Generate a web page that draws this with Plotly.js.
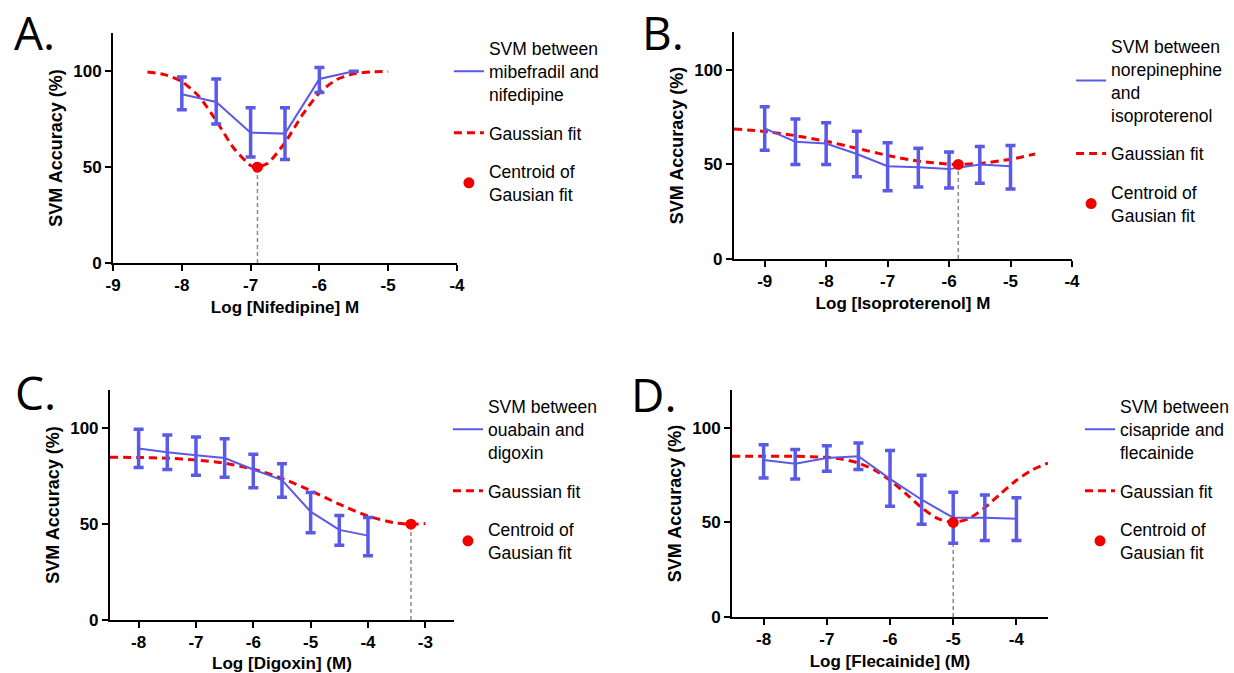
<!DOCTYPE html>
<html>
<head>
<meta charset="utf-8">
<script src="https://cdn.plot.ly/plotly-3.0.1.min.js"></script>
<style>html,body{margin:0;padding:0;background:#fff;}#chart{width:1234px;height:673px;}</style>
</head>
<body>
<div id="chart"></div>
<script>
// ---------- Panel A: Nifedipine ----------
const aX = [-8, -7.5, -7, -6.5, -6, -5.5];
const aY = [88, 84, 68, 67.5, 96, 100];
const aErrPlus = [9, 12, 13, 13.5, 6, 0];
const aErrMinus = [8, 11.5, 12.7, 13.5, 7, 0];
const aFitX = [-8.5, -8.25, -8, -7.75, -7.5, -7.25, -7, -6.9, -6.75, -6.5, -6.25, -6, -5.75, -5.5, -5.25, -5];
const aFitY = [99.6, 98.3, 94.7, 86.9, 74.3, 60.1, 50.9, 50, 52.0, 62.8, 77.1, 88.8, 95.7, 98.7, 99.7, 99.9];
const aCentroidX = [-6.9];
const aCentroidY = [50];
const aTicks = [-9, -8, -7, -6, -5, -4];
const aName = 'SVM between<br>mibefradil and<br>nifedipine';

// ---------- Panel B: Isoproterenol ----------
const bX = [-9, -8.5, -8, -7.5, -7, -6.5, -6, -5.5, -5];
const bY = [69, 62, 61, 55.5, 49, 48.5, 47.5, 50, 49];
const bErrPlus = [11.5, 12, 11, 12, 12.5, 10, 9, 9.5, 11];
const bErrMinus = [11.5, 12, 11, 12, 13, 10.5, 10, 10, 12];
const bFitX = [-9.5, -9, -8.5, -8, -7.5, -7, -6.5, -6, -5.85, -5.5, -5, -4.6];
const bFitY = [68.7, 67.4, 65.2, 62.2, 58.5, 54.7, 51.7, 50.1, 50, 50.5, 52.7, 55.5];
const bCentroidX = [-5.85];
const bCentroidY = [50];
const bTicks = [-9, -8, -7, -6, -5, -4];
const bName = 'SVM between<br>norepinephine<br>and<br>isoproterenol';

// ---------- Panel C: Digoxin ----------
const cX = [-8, -7.5, -7, -6.5, -6, -5.5, -5, -4.5, -4];
const cY = [89.5, 87.5, 86, 84.5, 78.5, 73, 56.5, 47, 44];
const cErrPlus = [10, 9, 9.5, 10, 8, 8.5, 10, 7.5, 9.5];
const cErrMinus = [10, 9, 10.5, 10, 9.5, 9, 11, 8, 10.5];
const cFitX = [-8.5, -8, -7.5, -7, -6.5, -6, -5.5, -5, -4.5, -4, -3.5, -3.25, -3];
const cFitY = [84.9, 84.8, 84.4, 83.5, 81.8, 78.7, 73.9, 67.5, 60.4, 54.2, 50.5, 50, 50.3];
const cCentroidX = [-3.25];
const cCentroidY = [50];
const cTicks = [-8, -7, -6, -5, -4, -3];
const cName = 'SVM between<br>ouabain and<br>digoxin';

// ---------- Panel D: Flecainide ----------
const dX = [-8, -7.5, -7, -6.5, -6, -5.5, -5, -4.5, -4];
const dY = [83, 81, 84, 85, 73, 62, 52.5, 52.5, 52];
const dErrPlus = [8, 7.5, 6.5, 7, 15, 13, 13.5, 12, 11];
const dErrMinus = [9.5, 8, 7, 7, 14.5, 13, 13.5, 12, 11.5];
const dFitX = [-8.5, -8, -7.5, -7, -6.75, -6.5, -6.25, -6, -5.75, -5.5, -5.25, -5, -4.75, -4.5, -4.25, -4, -3.75, -3.5];
const dFitY = [85, 85, 85, 84.4, 83.4, 81.4, 77.8, 72.3, 65.2, 57.8, 52.1, 50, 52.1, 57.8, 65.2, 72.3, 77.8, 81.4];
const dCentroidX = [-5];
const dCentroidY = [50];
const dTicks = [-8, -7, -6, -5, -4];
const dName = 'SVM between<br>cisapride and<br>flecainide';

const yTicks = [0, 50, 100];
const yLabel = 'SVM Accuracy (%)';
const xLabels = ['Log [Nifedipine] M', 'Log [Isoproterenol] M', 'Log [Digoxin] (M)', 'Log [Flecainide] (M)'];
const panelLabels = ['A.', 'B.', 'C.', 'D.'];
const fitName = 'Gaussian fit';
const centroidName = 'Centroid of<br>Gausian fit';

const BLUE = '#5A5AE6';
const RED = '#F20000';
const ARIAL = '"Liberation Sans", Arial, sans-serif';

const panels = [
  {x: aX, y: aY, ep: aErrPlus, em: aErrMinus, fx: aFitX, fy: aFitY, cx: aCentroidX, cy: aCentroidY, name: aName},
  {x: bX, y: bY, ep: bErrPlus, em: bErrMinus, fx: bFitX, fy: bFitY, cx: bCentroidX, cy: bCentroidY, name: bName},
  {x: cX, y: cY, ep: cErrPlus, em: cErrMinus, fx: cFitX, fy: cFitY, cx: cCentroidX, cy: cCentroidY, name: cName},
  {x: dX, y: dY, ep: dErrPlus, em: dErrMinus, fx: dFitX, fy: dFitY, cx: dCentroidX, cy: dCentroidY, name: dName}
];

const traces = [];
panels.forEach((p, i) => {
  const n = i === 0 ? '' : String(i + 1);
  const xa = 'x' + n, ya = 'y' + n;
  const lg = 'legend' + n;
  traces.push({
    x: [p.cx[0], p.cx[0]], y: [0, p.cy[0]], xaxis: xa, yaxis: ya,
    mode: 'lines', line: {color: '#8a8a8a', width: 1.5, dash: '4px,3px'},
    showlegend: false, hoverinfo: 'skip'
  });
  traces.push({
    x: p.fx, y: p.fy, xaxis: xa, yaxis: ya, name: fitName,
    mode: 'lines', line: {color: RED, width: 3, dash: '8px,5px', shape: 'spline', smoothing: 0.6},
    legend: lg, legendgroup: 'fit' + i, legendrank: 2
  });
  traces.push({
    x: p.x, y: p.y, xaxis: xa, yaxis: ya, name: p.name,
    mode: 'lines', line: {color: BLUE, width: 2},
    error_y: {type: 'data', symmetric: false, array: p.ep, arrayminus: p.em, color: BLUE, thickness: 3.5, width: 5},
    legend: lg, legendgroup: 'svm' + i, legendrank: 1
  });
  traces.push({
    x: p.cx, y: p.cy, xaxis: xa, yaxis: ya, name: centroidName,
    mode: 'markers', marker: {color: RED, size: 11},
    legend: lg, legendgroup: 'cen' + i, legendrank: 3
  });
});

function xAxis(domain, range, ticks, title, anchor) {
  return {
    domain: domain, range: range, anchor: anchor,
    tickmode: 'array', tickvals: ticks, ticktext: ticks.map(String),
    showline: true, linecolor: '#000', linewidth: 2,
    ticks: 'outside', ticklen: 6, tickwidth: 2, tickcolor: '#000',
    showgrid: false, zeroline: false,
    tickfont: {family: ARIAL, size: 17, color: '#000', weight: 'bold'},
    title: {text: title, font: {family: ARIAL, size: 17, color: '#000', weight: 'bold'}, standoff: 7}
  };
}
function yAxis(domain, anchor) {
  return {
    domain: domain, range: [0, 120], anchor: anchor,
    tickmode: 'array', tickvals: yTicks, ticktext: yTicks.map(String),
    showline: true, linecolor: '#000', linewidth: 2,
    ticks: 'outside', ticklen: 6, tickwidth: 2, tickcolor: '#000',
    showgrid: false, zeroline: false,
    tickfont: {family: ARIAL, size: 17, color: '#000', weight: 'bold'},
    title: {text: yLabel, font: {family: ARIAL, size: 18, color: '#000', weight: 'bold'}, standoff: 6}
  };
}
function legendAt(x, y) {
  return {
    x: x, y: y, xanchor: 'left', yanchor: 'top', xref: 'paper', yref: 'paper',
    bgcolor: 'rgba(0,0,0,0)', borderwidth: 0,
    font: {family: ARIAL, size: 17.5, color: '#000'},
    traceorder: 'grouped', tracegroupgap: 13, valign: 'middle', itemwidth: 30
  };
}
function panelLabel(text, x, y) {
  return {text: text, x: x, y: y, xref: 'paper', yref: 'paper', xanchor: 'left', yanchor: 'middle',
    showarrow: false, font: {family: '"Open Sans", "Noto Sans", sans-serif', size: 46, color: '#000'}};
}

const layout = {
  width: 1234, height: 673,
  margin: {l: 0, r: 0, t: 0, b: 0},
  paper_bgcolor: '#fff', plot_bgcolor: '#fff',
  xaxis: xAxis([0.0916, 0.3703], [-9, -4], aTicks, xLabels[0], 'y'),
  yaxis: yAxis([0.6092, 0.9510], 'x'),
  xaxis2: xAxis([0.5948, 0.8687], [-9.5, -4], bTicks, xLabels[1], 'y2'),
  yaxis2: yAxis([0.6152, 0.9525], 'x2'),
  xaxis3: xAxis([0.0891, 0.3679], [-8.5, -2.5], cTicks, xLabels[2], 'y3'),
  yaxis3: yAxis([0.0788, 0.4205], 'x3'),
  xaxis4: xAxis([0.5932, 0.8493], [-8.5, -3.5], dTicks, xLabels[3], 'y4'),
  yaxis4: yAxis([0.0832, 0.4205], 'x4'),
  legend: legendAt(0.3638, 0.9545),
  legend2: legendAt(0.8680, 0.9575),
  legend3: legendAt(0.3630, 0.4226),
  legend4: legendAt(0.8752, 0.4226),
  annotations: [
    panelLabel(panelLabels[0], 0.0097, 0.9525),
    panelLabel(panelLabels[1], 0.5186, 0.9525),
    panelLabel(panelLabels[2], 0.0105, 0.417),
    panelLabel(panelLabels[3], 0.5097, 0.414)
  ],
  showlegend: true
};

Plotly.newPlot('chart', traces, layout, {displayModeBar: false, staticPlot: true});
</script>
</body>
</html>
